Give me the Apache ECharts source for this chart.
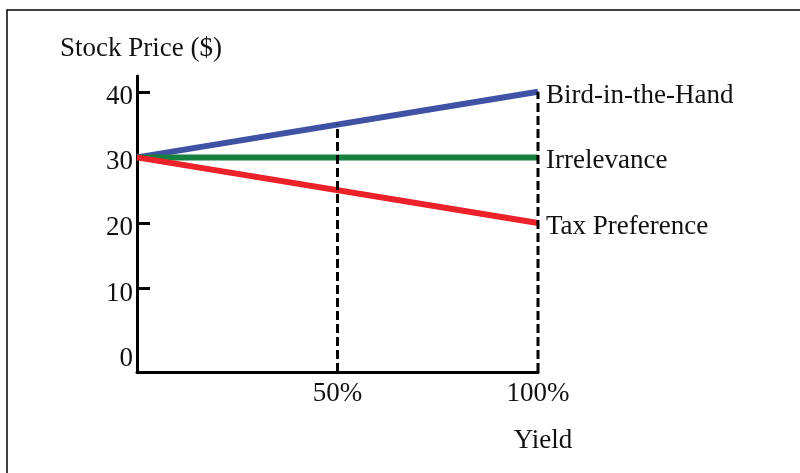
<!DOCTYPE html>
<html>
<head>
<meta charset="utf-8">
<title>Dividend Policy Theories</title>
<script src="https://cdn.jsdelivr.net/npm/echarts@6/dist/echarts.min.js"></script>
<style>
  html, body { margin: 0; padding: 0; background: #fff; }
  #chart { width: 800px; height: 473px; }
</style>
</head>
<body>
<div id="chart"></div>
<script>
// Dividend yield (x) versus stock price (y) under three dividend theories
const yieldPoints = [0, 100];
const birdInHand = [30, 40];
const irrelevance = [30, 30];
const taxPreference = [30, 20];
const seriesNames = ['Bird-in-the-Hand', 'Irrelevance', 'Tax Preference'];

// axis ticks and labels
const priceTicks = [10, 20, 30, 40];
const priceLabels = [0, 10, 20, 30, 40];
const yieldLabels = [50, 100];
const priceMin = -2.7;
const priceMax = 42.4;

// vertical reference lines from the x axis up to the bird-in-the-hand line
const dropX = [50, 100];
const dropTop = [35, 40];

const FONT = '"Liberation Serif", "Times New Roman", serif';
const textBase = { fontFamily: FONT, fontSize: 27, color: '#111' };

function pairs(xs, ys) { return xs.map((x, i) => [x, ys[i]]); }

const colors = ['#3F52A4', '#158040', '#EC2129'];
const values = [birdInHand, irrelevance, taxPreference];

const theorySeries = values.map((v, i) => ({
  name: seriesNames[i],
  type: 'line',
  data: pairs(yieldPoints, v),
  symbol: 'none',
  z: 2,
  lineStyle: { color: colors[i], width: 6 },
  endLabel: {
    show: true,
    formatter: '{a}',
    distance: 8,
    offset: [0, 4],
    ...textBase
  },
  silent: true
}));

const dropSeries = dropX.map((x, i) => ({
  type: 'line',
  data: [[x, priceMin], [x, dropTop[i]]],
  symbol: 'none',
  z: 4,
  lineStyle: { color: '#000', width: 3, type: [9, 4] },
  silent: true
}));

const chart = echarts.init(document.getElementById('chart'), null, { renderer: 'canvas' });
chart.setOption({
  animation: false,
  backgroundColor: '#fff',
  grid: { left: 137, right: 262, top: 76, bottom: 101, containLabel: false },
  graphic: [{
    type: 'rect',
    shape: { x: 7, y: 10, width: 900, height: 600 },
    style: { fill: 'none', stroke: '#000', lineWidth: 1.5 },
    silent: true
  }],
  xAxis: {
    type: 'value',
    min: 0,
    max: 100,
    name: 'Yield',
    nameLocation: 'end',
    nameGap: 5,
    nameTextStyle: { ...textBase, align: 'center', verticalAlign: 'top', padding: [55, 0, 0, 0] },
    axisLine: { show: true, onZero: false, lineStyle: { color: '#000', width: 3 } },
    axisTick: { show: false },
    splitLine: { show: false },
    axisLabel: {
      customValues: yieldLabels,
      formatter: '{value}%',
      margin: 8,
      ...textBase
    }
  },
  yAxis: {
    type: 'value',
    min: priceMin,
    max: priceMax,
    name: 'Stock Price ($)',
    nameLocation: 'end',
    nameGap: 27,
    nameTextStyle: { ...textBase, align: 'center', verticalAlign: 'middle', padding: [0, 0, 0, 8] },
    axisLine: { show: true, onZero: false, lineStyle: { color: '#000', width: 3 } },
    axisTick: { show: true, inside: true, length: 13, customValues: priceTicks, lineStyle: { color: '#000', width: 3 } },
    splitLine: { show: false },
    axisLabel: {
      customValues: priceLabels,
      margin: 4,
      verticalAlign: 'top',
      lineHeight: 10,
      ...textBase
    }
  },
  series: [...theorySeries, ...dropSeries]
});
</script>
</body>
</html>
